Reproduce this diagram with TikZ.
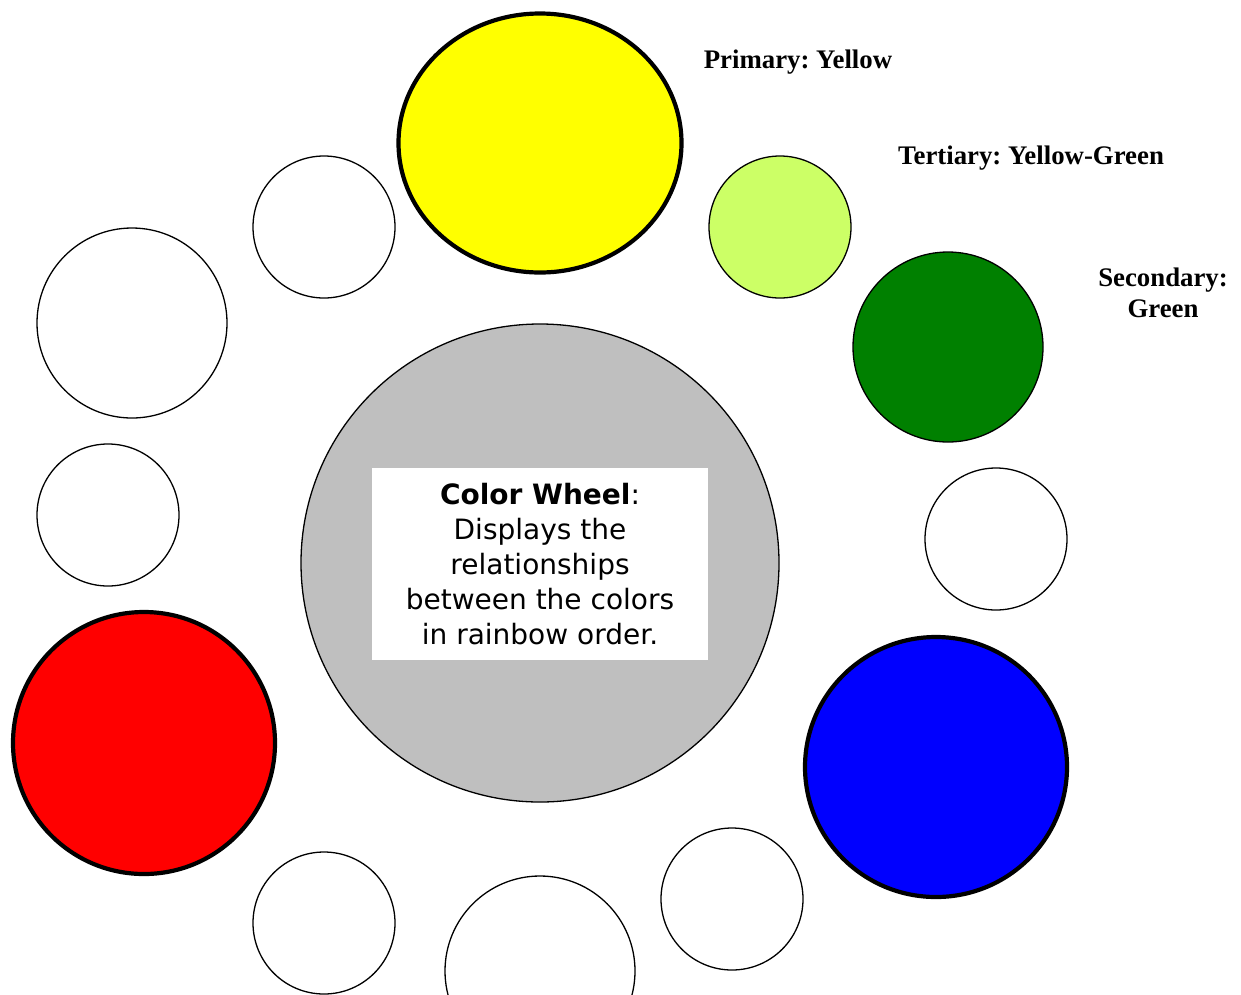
\documentclass[tikz,border=0pt]{standalone}
\usepackage{fontspec}
\setmainfont{Liberation Serif}
\newfontfamily\wheelfont{DejaVu Sans}
\usepackage{xcolor}
\usetikzlibrary{shapes.geometric}
\frenchspacing

\definecolor{wheelgray}{HTML}{BFBFBF}
\definecolor{wheelyellow}{HTML}{FFFF00}
\definecolor{yellowgreen}{HTML}{CCFF66}
\definecolor{darkgreen}{HTML}{008000}
\definecolor{wheelblue}{HTML}{0000FF}
\definecolor{wheelred}{HTML}{FF0000}

\tikzset{
    hue/.style={draw, ellipse, inner sep=0pt, line width=1.3pt, fill=white},
    primary/.style={hue, line width=4.2pt},
    tag/.style={font=\fontsize{26.8}{31}\selectfont\bfseries, align=center}
}

\begin{document}
\begin{tikzpicture}[x=1pt, y=-1pt]

    \useasboundingbox (0,0) rectangle (1241,994);

    % centre of the wheel
    \node[hue, fill=wheelgray, minimum width=478pt, minimum height=478pt] (hub) at (540,563) {};
    \fill[white] (372,468) rectangle (708,660);
    \node[align=center, font=\wheelfont\fontsize{28}{35}\selectfont] (caption) at (540,564)
        {\textbf{Color Wheel}:\\Displays the\\relationships\\between the colors\\in rainbow order.};

    % ring of colors
    \node[primary, fill=wheelyellow, minimum width=283pt, minimum height=259pt] (yellow) at (540,143) {};
    \node[hue, fill=yellowgreen, minimum width=142pt, minimum height=142pt] (yelgreen) at (780,227) {};
    \node[hue, fill=darkgreen, minimum width=190pt, minimum height=190pt] (green) at (948,347) {};
    \node[hue, minimum width=142pt, minimum height=142pt] (bluegreen) at (996,539) {};
    \node[primary, fill=wheelblue, minimum width=262pt, minimum height=260pt] (blue) at (936,767) {};
    \node[hue, minimum width=142pt, minimum height=142pt] (blueviolet) at (732,899) {};
    \node[hue, minimum width=190pt, minimum height=190pt] (violet) at (540,971) {};
    \node[hue, minimum width=142pt, minimum height=142pt] (redviolet) at (324,923) {};
    \node[primary, fill=wheelred, minimum width=262pt, minimum height=262pt] (red) at (144,743) {};
    \node[hue, minimum width=142pt, minimum height=142pt] (redorange) at (108,515) {};
    \node[hue, minimum width=190pt, minimum height=190pt] (orange) at (132,323) {};
    \node[hue, minimum width=142pt, minimum height=142pt] (yelorange) at (324,227) {};

    % labels
    \node[tag] (primarytag) at (798,62) {Primary: Yellow};
    \node[tag] (tertiarytag) at (1031,158) {Tertiary: Yellow-Green};
    \node[tag] (secondarytag) at (1163,293) {Secondary:\\Green};

\end{tikzpicture}
\end{document}
